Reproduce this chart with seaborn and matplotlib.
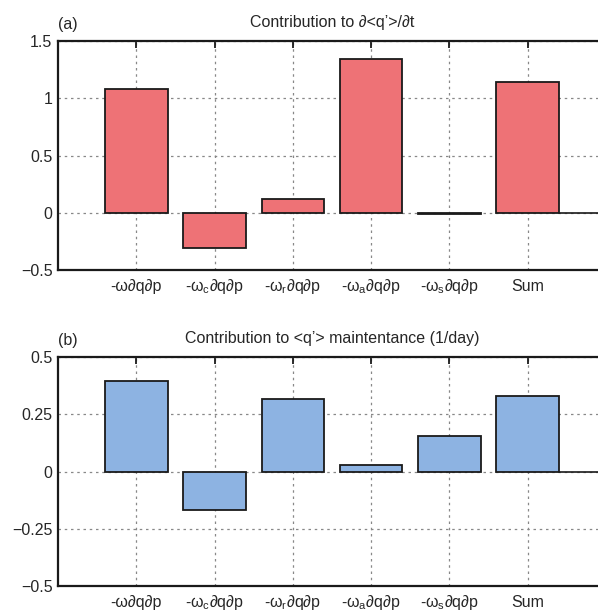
import numpy as np
import pandas as pd
import matplotlib
matplotlib.use("Agg")
import matplotlib.pyplot as plt
import matplotlib.transforms as mtransforms
import seaborn as sns

# data
terms = ['-ω∂q∂p', '-ω$_{c}$∂q∂p', '-ω$_{r}$∂q∂p', '-ω$_{a}$∂q∂p', '-ω$_{s}$∂q∂p', 'Sum']
tendency = [1.08, -0.31, 0.12, 1.34, -0.01, 1.14]
maintenance = [0.395, -0.17, 0.315, 0.03, 0.155, 0.33]

yticks_a = [-0.5, 0, 0.5, 1, 1.5]
yticklabels_a = ['−0.5', '0', '0.5', '1', '1.5']
yticks_b = [-0.5, -0.25, 0, 0.25, 0.5]
yticklabels_b = ['−0.5', '−0.25', '0', '0.25', '0.5']

sns.set_style('white')
plt.rcParams['font.family'] = ['Liberation Sans', 'DejaVu Sans']
plt.rcParams['mathtext.default'] = 'regular'
plt.rcParams['font.size'] = 11.5

fig = plt.figure(figsize=(5.98, 6.13), dpi=100)
W = (606 - 58) / 598
ax1 = fig.add_axes([58 / 598, 1 - 270 / 613, W, 229 / 613])
ax2 = fig.add_axes([58 / 598, 1 - 586 / 613, W, 229 / 613])


def draw(ax, vals, color, yticks, ylabels, title, tag):
    df = pd.DataFrame({'term': terms, 'value': vals})
    sns.barplot(data=df, x='term', y='value', color=color, saturation=1,
                edgecolor='#1a1a1a', linewidth=1.3, width=0.8, ax=ax)
    ax.set_axisbelow(True)
    ax.grid(True, axis='both', linestyle=(0, (2, 3)), color='#888888', linewidth=0.9)
    ax.plot([5.4, 6], [0, 0], color='#1a1a1a', linewidth=1.2)
    ax.set_xlim(-1, 6)
    ax.set_ylim(yticks[0], yticks[-1])
    ax.set_yticks(yticks)
    ax.set_yticklabels(ylabels)
    ax.set_xlabel('')
    ax.set_ylabel('')
    ax.tick_params(direction='in', length=5, width=1.3, color='#1a1a1a',
                   top=True, right=True, labelsize=11.5, pad=4)
    ax.tick_params(axis='x', labelbottom=False)
    # x labels placed on a common baseline
    trans = mtransforms.blended_transform_factory(ax.transData, ax.transAxes)
    for i, t in enumerate(terms):
        ax.text(i, -0.093, t, transform=trans, ha='center', va='baseline', fontsize=11.5)
    for s in ax.spines.values():
        s.set_linewidth(1.6)
        s.set_color('#1a1a1a')
    ax.set_title(title, fontsize=11.5, pad=10)
    ax.text(0.0, 1.04, tag, transform=ax.transAxes, fontsize=11.5, ha='left', va='bottom')


draw(ax1, tendency, '#ee7276', yticks_a, yticklabels_a,
     'Contribution to ∂<q’>/∂t', '(a)')
draw(ax2, maintenance, '#8db3e2', yticks_b, yticklabels_b,
     'Contribution to <q’> maintentance (1/day)', '(b)')

fig.savefig('out.png', dpi=100)
